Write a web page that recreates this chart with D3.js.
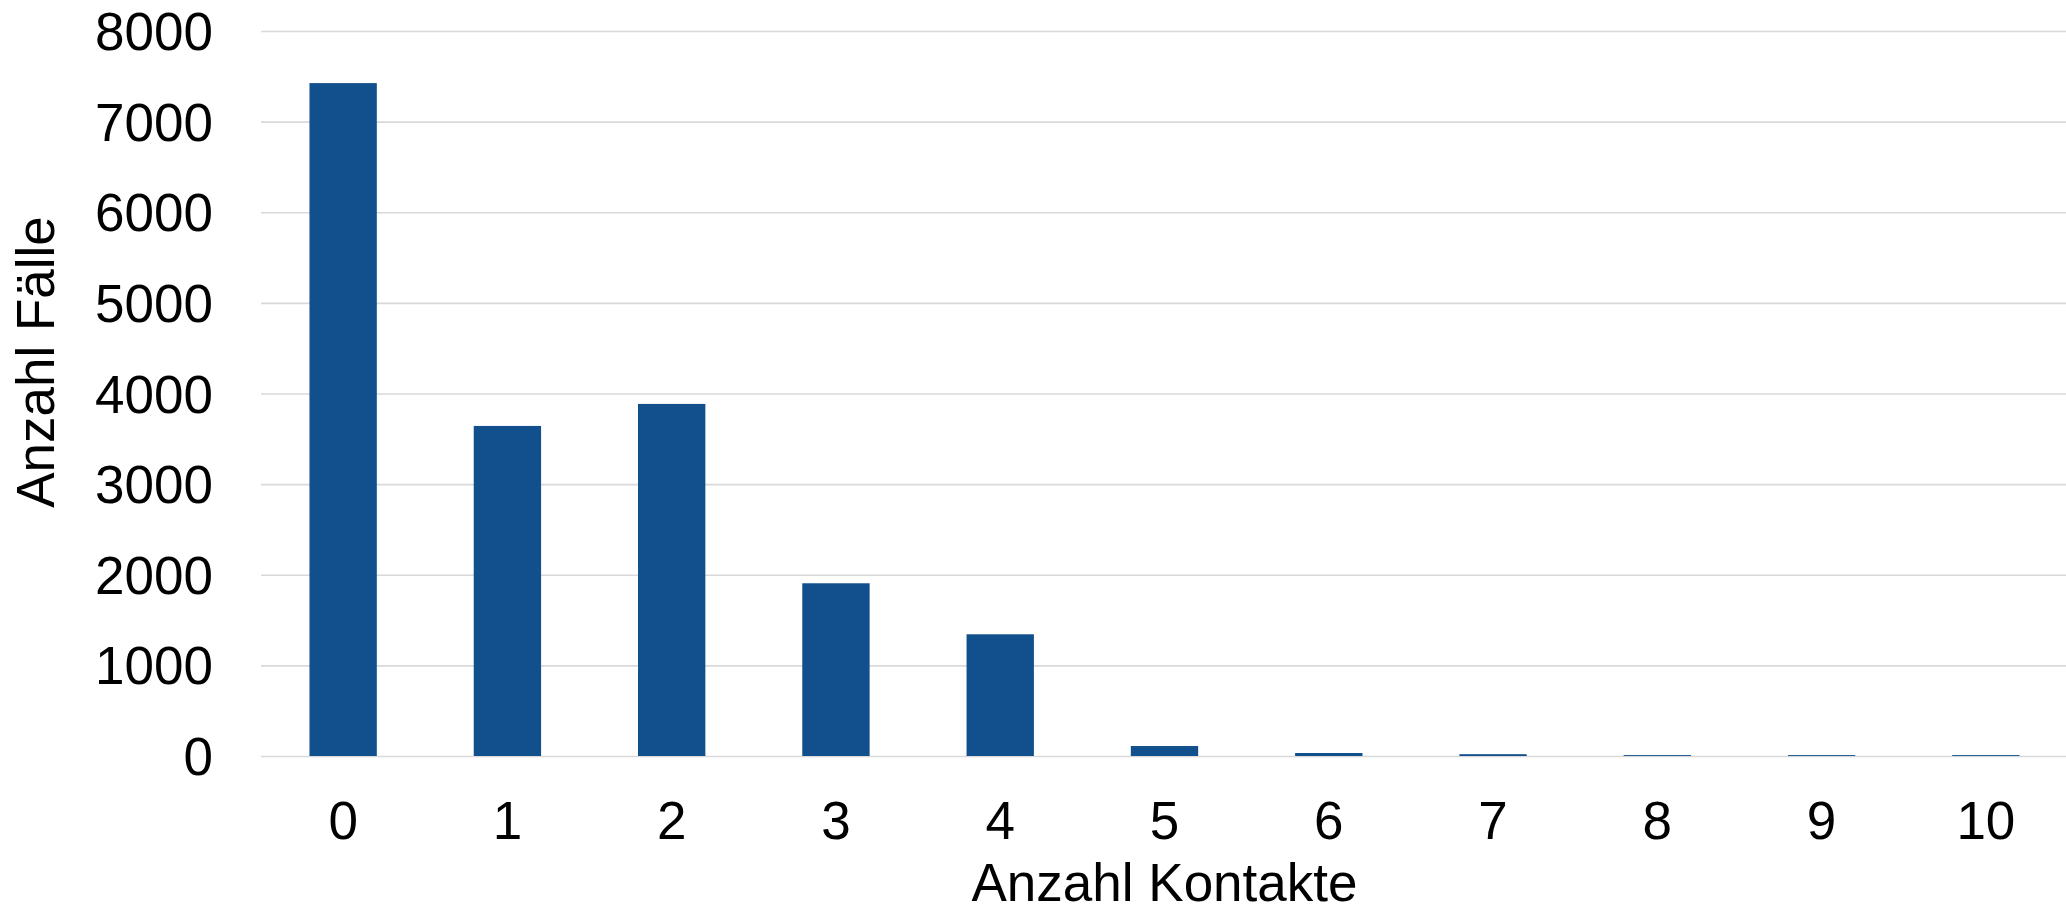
<!DOCTYPE html>
<html>
<head>
<meta charset="utf-8">
<script src="https://cdn.jsdelivr.net/npm/d3@7"></script>
<style>
  html, body { margin: 0; padding: 0; background: #fff; }
  svg { display: block; }
  text { font-family: "Liberation Sans", Arial, sans-serif; fill: #000; }
</style>
</head>
<body>
<svg id="chart" width="2066" height="911"></svg>
<script>
const categories = ["0","1","2","3","4","5","6","7","8","9","10"];
const values = [7425, 3642, 3885, 1906, 1343, 110, 33, 20, 10, 10, 10];
const yTicks = [0, 1000, 2000, 3000, 4000, 5000, 6000, 7000, 8000];
const xTitle = "Anzahl Kontakte";
const yTitle = "Anzahl Fälle";

(function () {
const svg = d3.select("#chart");
const mLeft = 261, mRight = 2068, mTop = 31, mBottom = 756;
const fontSize = 53;

const x = d3.scaleBand().domain(categories).range([mLeft, mRight])
  .paddingInner(0.59).paddingOuter(0.295);
const y = d3.scaleLinear().domain([0, 8000]).range([mBottom, mTop]);

// gridlines
const grid = svg.append("g")
  .attr("transform", `translate(${mLeft},0)`)
  .call(d3.axisLeft(y).tickValues(yTicks).tickSize(-(mRight - mLeft)).tickFormat(""));
grid.select(".domain").remove();
grid.selectAll("line").attr("stroke", "#d9d9d9").attr("stroke-width", 1.6);

// bars
svg.append("g").selectAll("rect")
  .data(values)
  .join("rect")
  .attr("x", (d, i) => x(categories[i]))
  .attr("width", x.bandwidth())
  .attr("y", d => y(d))
  .attr("height", d => y(0) - y(d))
  .attr("fill", "#11508c");

// y axis labels
const yAxis = svg.append("g")
  .attr("transform", `translate(213,0)`)
  .call(d3.axisLeft(y).tickValues(yTicks).tickSize(0).tickPadding(0).tickFormat(d3.format("d")));
yAxis.select(".domain").remove();
yAxis.selectAll("text")
  .style("font-size", fontSize + "px")
  .attr("dy", "0.35em")
  .attr("fill", "#000");

// x axis labels
const xAxis = svg.append("g")
  .attr("transform", `translate(0,${mBottom})`)
  .call(d3.axisBottom(x).tickSize(0).tickPadding(0));
xAxis.select(".domain").remove();
xAxis.selectAll("text")
  .style("font-size", fontSize + "px")
  .attr("y", 83)
  .attr("dy", 0)
  .attr("fill", "#000");

// axis titles
svg.append("text")
  .attr("x", (mLeft + mRight) / 2)
  .attr("y", 901)
  .attr("text-anchor", "middle")
  .style("font-size", fontSize + "px")
  .text(xTitle);

svg.append("text")
  .attr("transform", `translate(54,362) rotate(-90)`)
  .attr("text-anchor", "middle")
  .style("font-size", fontSize + "px")
  .text(yTitle);
})();
</script>
</body>
</html>
